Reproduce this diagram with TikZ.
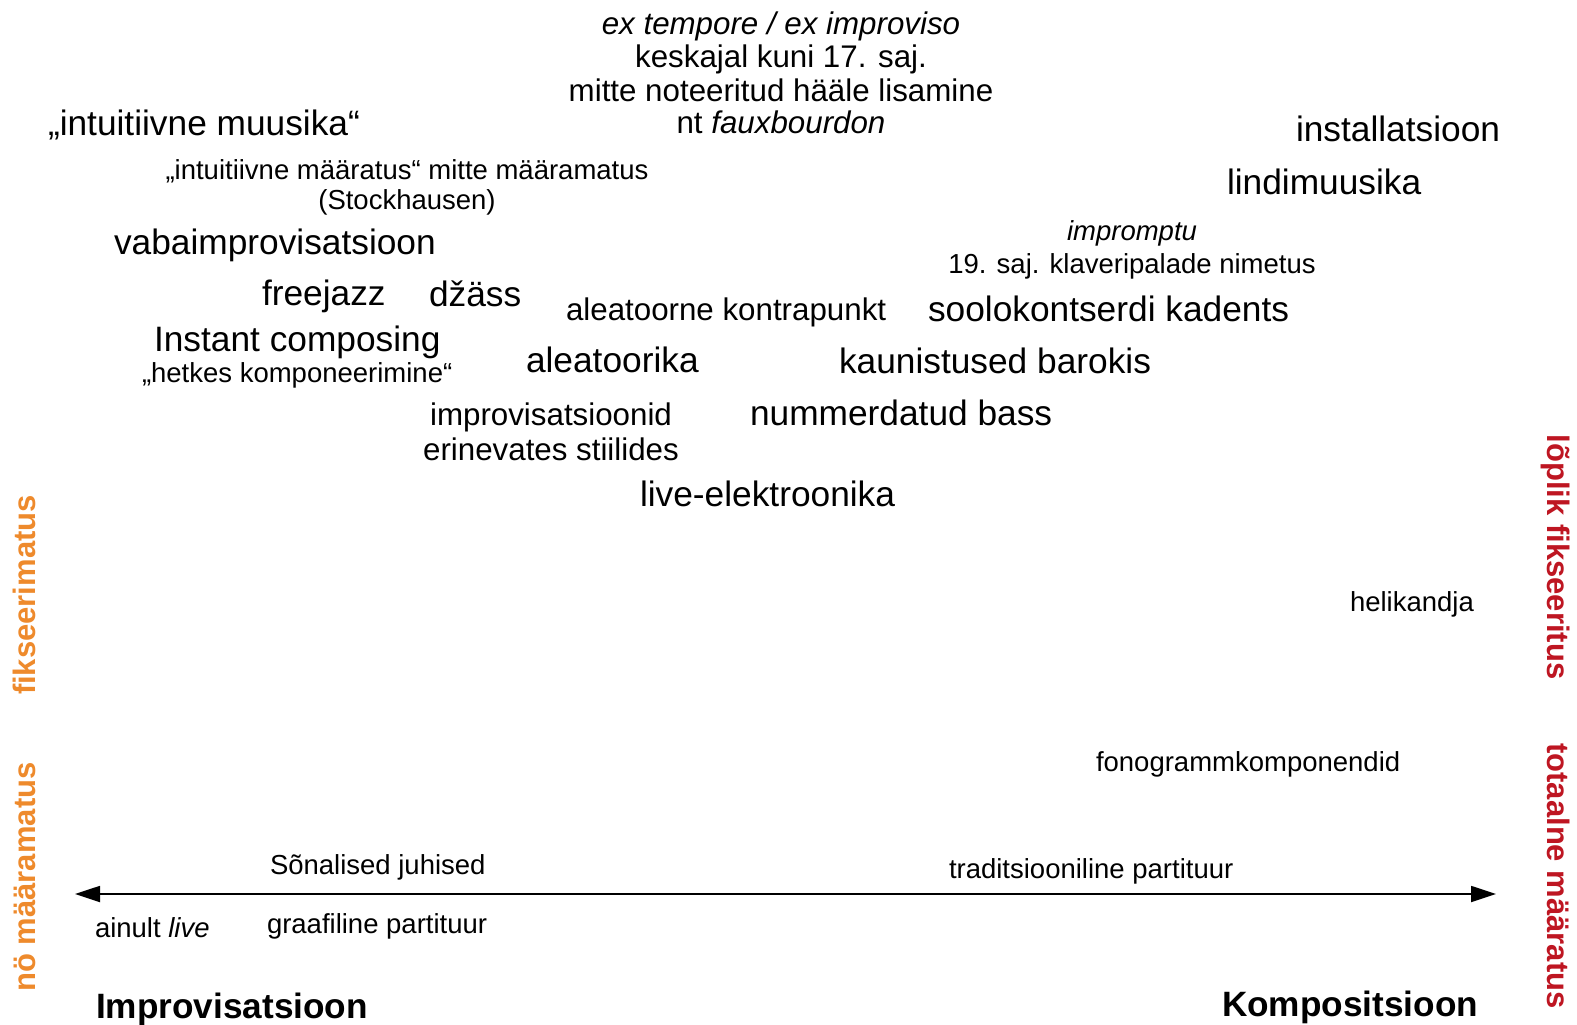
\documentclass[tikz,border=0pt]{standalone}
\usepackage{fontspec}
\setmainfont{Liberation Sans}
\usetikzlibrary{arrows.meta}
\definecolor{axisorange}{RGB}{238,138,44}
\definecolor{axisred}{RGB}{190,22,34}
\begin{document}
\begin{tikzpicture}[x=1pt,y=-1pt,
  every node/.style={inner sep=0pt, outer sep=0pt},
  bigtext/.style={font=\fontsize{35.3}{40}\selectfont},
  midtext/.style={font=\fontsize{31.3}{36}\selectfont},
  smalltext/.style={font=\fontsize{27.5}{32}\selectfont},
  titletext/.style={font=\fontsize{35.2}{40}\selectfont\bfseries},
  sidetext/.style={font=\fontsize{31}{36}\selectfont\bfseries},
  lw/.style={anchor=base west},
  lc/.style={anchor=base},
  axisline/.style={line width=1.8pt, {Triangle[length=25pt,width=16pt]}-{Triangle[length=25pt,width=16pt]}},
]
\useasboundingbox (0,0) rectangle (1577,1025);

% historical note at the top
\node[midtext,lc] (tempore) at (781,35) {\textit{ex tempore / ex improviso}};
\node[midtext,lc] (keskaeg) at (781,68) {keskajal kuni 17. saj.};
\node[midtext,lc] (haal)    at (781,101) {mitte noteeritud hääle lisamine};
\node[midtext,lc] (fauxb)   at (781,133) {nt \textit{fauxbourdon}};

% improvisation side
\node[bigtext,lw]   (intmuus)  at (48,135)  {„intuitiivne muusika“};
\node[smalltext,lc] (intmaar)  at (407,179) {„intuitiivne määratus“ mitte määramatus};
\node[smalltext,lc] (stockh)   at (407,209) {(Stockhausen)};
\node[bigtext,lw]   (vaba)     at (114,254) {vabaimprovisatsioon};
\node[bigtext,lw]   (freejazz) at (262,305) {freejazz};
\node[bigtext,lw]   (dzass)    at (429,306) {džäss};
\node[bigtext,lw]   (instant)  at (154,351) {Instant composing};
\node[smalltext,lw] (hetkes)   at (142,382) {„hetkes komponeerimine“};

% middle field
\node[midtext,lw]   (kontra)   at (566,320) {aleatoorne kontrapunkt};
\node[bigtext,lw]   (aleat)    at (526,372) {aleatoorika};
\node[midtext,lc]   (improv)   at (551,425) {improvisatsioonid};
\node[midtext,lc]   (stiilid)  at (551,460) {erinevates stiilides};
\node[bigtext,lw]   (numbass)  at (750,425) {nummerdatud bass};
\node[bigtext,lw]   (kaunis)   at (839,373) {kaunistused barokis};
\node[bigtext,lw]   (live)     at (640,506) {live-elektroonika};

% composition side
\node[bigtext,lw]   (install)  at (1296,141) {installatsioon};
\node[bigtext,lw]   (lindi)    at (1227,194) {lindimuusika};
\node[smalltext,lc] (imprompt) at (1132,240) {\textit{impromptu}};
\node[smalltext,lc] (klaver)   at (1132,273) {19. saj. klaveripalade nimetus};
\node[bigtext,lw]   (kadents)  at (928,321)  {soolokontserdi kadents};
\node[smalltext,lw] (helik)    at (1350,611) {helikandja};
\node[smalltext,lw] (fonogr)   at (1096,771) {fonogrammkomponendid};

% notation labels around the axis
\node[smalltext,lw] (sonal)    at (270,874)  {Sõnalised juhised};
\node[smalltext,lw] (tradit)   at (949,878)  {traditsiooniline partituur};
\node[smalltext,lw] (ainult)   at (95,937)   {ainult \textit{live}};
\node[smalltext,lw] (graaf)    at (267,933)  {graafiline partituur};

% axis
\coordinate (axL) at (75,894);
\coordinate (axR) at (1496,894);
\draw[axisline] (axL) -- (axR);

% poles
\node[titletext,lw] (improv-pole) at (96,1018)  {Improvisatsioon};
\node[titletext,lw] (kompos-pole) at (1222,1016) {Kompositsioon};

% side scales
\node[sidetext,text=axisorange,rotate=90,anchor=base]  (fiks)   at (35,595)   {fikseerimatus};
\node[sidetext,text=axisorange,rotate=90,anchor=base]  (nomaar) at (35,877)   {nö määramatus};
\node[sidetext,text=axisred,rotate=-90,anchor=base]    (loplik) at (1547,557) {lõplik fikseeritus};
\node[sidetext,text=axisred,rotate=-90,anchor=base]    (totaal) at (1547,876) {totaalne määratus};
\end{tikzpicture}
\end{document}
